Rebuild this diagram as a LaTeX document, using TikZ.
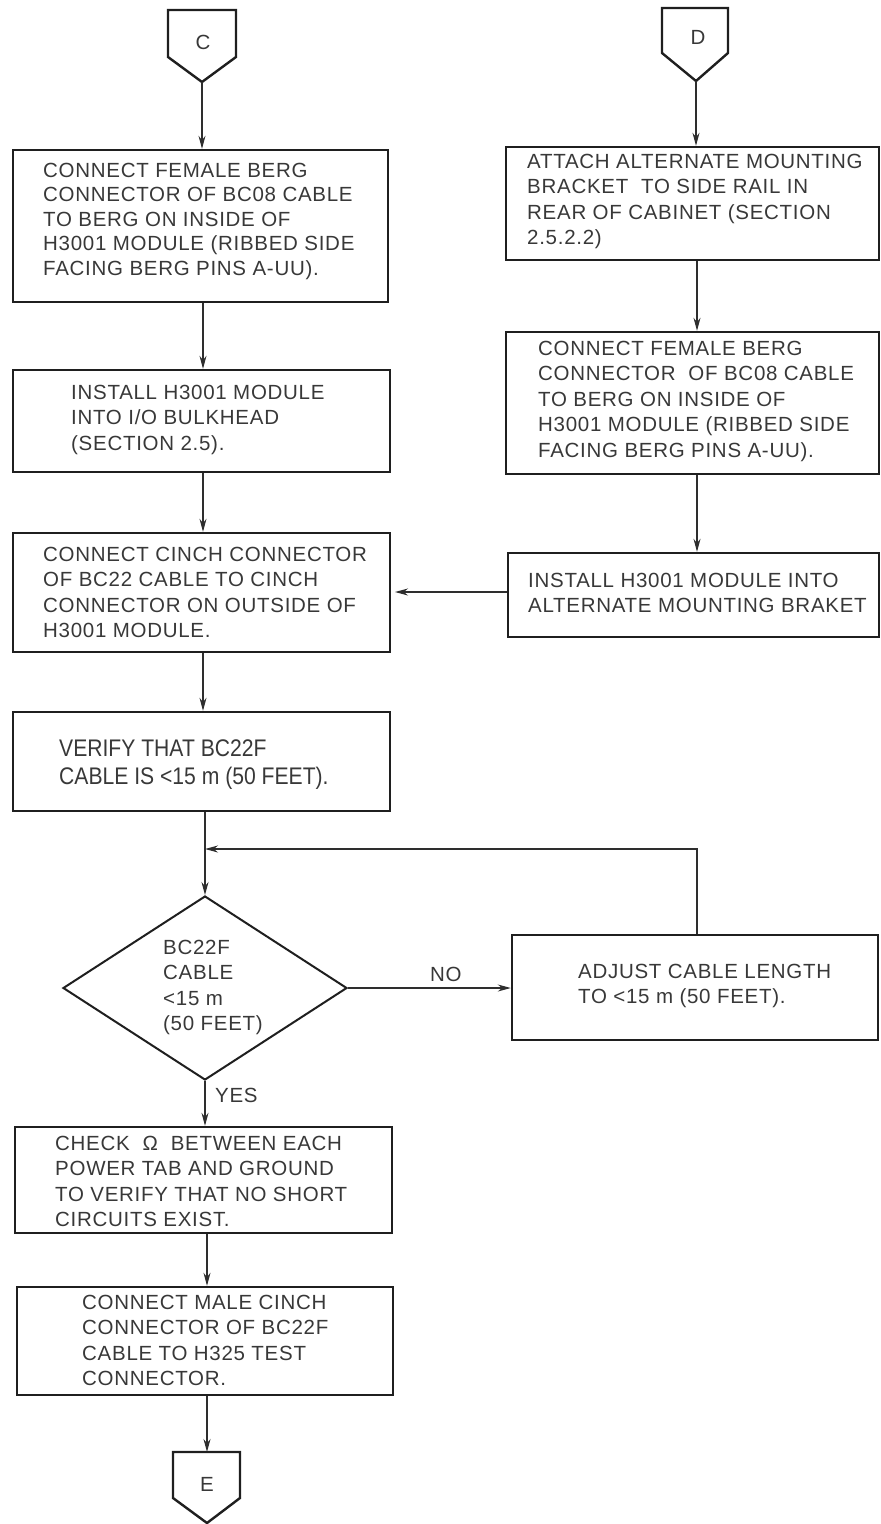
\documentclass[tikz,border=0pt]{standalone}
\usepackage{fontspec}
\setmainfont{Liberation Sans}[LetterSpace=3.5]
\newfontfamily\narrowfont{Liberation Sans}[FakeStretch=0.88]
\usetikzlibrary{arrows.meta,fit,shapes.geometric}
\newcommand{\flowfont}{\fontsize{20.5}{25.6}\selectfont}
\newcommand{\tightfont}{\fontsize{20.5}{24.5}\selectfont}
\newcommand{\verifyfont}{\narrowfont\fontsize{24}{28}\selectfont}

\begin{document}
\begin{tikzpicture}[x=1pt,y=-1pt,
  box/.style={draw=black!88, line width=2.4pt, rectangle, inner sep=0pt},
  steptext/.style={anchor=north west, inner sep=0pt, align=left, font=\flowfont, text=black!78},
  tag/.style={inner sep=0pt, font=\flowfont, text=black!78},
  flow/.style={draw=black!82, line width=1.2pt, -{Stealth[length=13pt,width=7pt]}},
  outline/.style={draw=black!88, line width=2.4pt, line join=miter},
  decision/.style={diamond, draw=black!88, line width=2pt, inner sep=0pt},
]
\useasboundingbox (0,0) rectangle (881,1524);

% ---------- off-page connectors ----------
\draw[outline] (168,10) -- (236,10) -- (236,57) -- (202,82) -- (168,57) -- cycle;
\node[tag] (C) at (203,42) {C};
\coordinate (Ctip) at (202,82);

\draw[outline] (662,8) -- (728,8) -- (728,53) -- (696,81) -- (662,53) -- cycle;
\node[tag] (D) at (698,37) {D};
\coordinate (Dtip) at (696,81);

\draw[outline] (173,1452) -- (240,1452) -- (240,1498) -- (207,1523) -- (173,1498) -- cycle;
\node[tag] (E) at (207,1484) {E};
\coordinate (Etop) at (207,1452);

% ---------- left column ----------
\path (13,150) coordinate (b1a) (388,302) coordinate (b1b);
\node[box, fit=(b1a)(b1b)] (b1) {};
\node[steptext, font=\tightfont] (t1) at (43,160) {\strut CONNECT FEMALE BERG\\CONNECTOR OF BC08 CABLE\\TO BERG ON INSIDE OF\\H3001 MODULE (RIBBED SIDE\\FACING BERG PINS A-UU).};

\path (13,370) coordinate (b2a) (390,472) coordinate (b2b);
\node[box, fit=(b2a)(b2b)] (b2) {};
\node[steptext] (t2) at (71,381) {\strut INSTALL H3001 MODULE\\INTO I/O BULKHEAD\\(SECTION 2.5).};

\path (13,533) coordinate (b3a) (390,652) coordinate (b3b);
\node[box, fit=(b3a)(b3b)] (b3) {};
\node[steptext] (t3) at (43,543) {\strut CONNECT CINCH CONNECTOR\\OF BC22 CABLE TO CINCH\\CONNECTOR ON OUTSIDE OF\\H3001 MODULE.};

\path (13,712) coordinate (b4a) (390,811) coordinate (b4b);
\node[box, fit=(b4a)(b4b)] (b4) {};
\node[steptext, font=\verifyfont] (t4) at (59,737) {\strut VERIFY THAT BC22F\\CABLE IS <15 m (50 FEET).};

\node[decision, minimum width=284pt, minimum height=184pt] (dec) at (205,988) {};
\node[steptext] (tdec) at (163,936) {\strut BC22F\\CABLE\\<15 m\\(50 FEET)};

\path (15,1127) coordinate (b5a) (392,1233) coordinate (b5b);
\node[box, fit=(b5a)(b5b)] (b5) {};
\node[steptext] (t5) at (55,1132) {\strut CHECK\ \ Ω\ \ BETWEEN EACH\\POWER TAB AND GROUND\\TO VERIFY THAT NO SHORT\\CIRCUITS EXIST.};

\path (17,1287) coordinate (b6a) (393,1395) coordinate (b6b);
\node[box, fit=(b6a)(b6b)] (b6) {};
\node[steptext] (t6) at (82,1291) {\strut CONNECT MALE CINCH\\CONNECTOR OF BC22F\\CABLE TO H325 TEST\\CONNECTOR.};

% ---------- right column ----------
\path (506,147) coordinate (r1a) (879,260) coordinate (r1b);
\node[box, fit=(r1a)(r1b)] (r1) {};
\node[steptext] (u1) at (527,150) {\strut ATTACH ALTERNATE MOUNTING\\BRACKET\ \ TO SIDE RAIL IN\\REAR OF CABINET (SECTION\\2.5.2.2)};

\path (506,332) coordinate (r2a) (879,474) coordinate (r2b);
\node[box, fit=(r2a)(r2b)] (r2) {};
\node[steptext] (u2) at (538,337) {\strut CONNECT FEMALE BERG\\CONNECTOR\ \ OF BC08 CABLE\\TO BERG ON INSIDE OF\\H3001 MODULE (RIBBED SIDE\\FACING BERG PINS A-UU).};

\path (508,553) coordinate (r3a) (879,637) coordinate (r3b);
\node[box, fit=(r3a)(r3b)] (r3) {};
\node[steptext] (u3) at (528,569) {\strut INSTALL H3001 MODULE INTO\\ALTERNATE MOUNTING BRAKET};

\path (512,935) coordinate (ra) (878,1040) coordinate (rb);
\node[box, fit=(ra)(rb)] (adj) {};
\node[steptext] (uadj) at (578,960) {\strut ADJUST CABLE LENGTH\\TO <15 m (50 FEET).};

% ---------- connectors ----------
\coordinate (colL) at (203,0);
\coordinate (colB) at (207,0);
\coordinate (colR) at (697,0);
\coordinate (loopin) at (205,849);

\draw[flow] (Ctip) -- (Ctip |- b1.north);
\draw[flow] (b1.south -| colL) -- (b2.north -| colL);
\draw[flow] (b2.south -| colL) -- (b3.north -| colL);
\draw[flow] (b3.south -| colL) -- (b4.north -| colL);
\draw[flow] (b4.south -| dec.north) -- (dec.north);
\draw[flow] (dec.south) -- (dec.south |- b5.north);
\draw[flow] (b5.south -| colB) -- (b6.north -| colB);
\draw[flow] (b6.south -| Etop) -- (Etop);

\draw[flow] (Dtip) -- (Dtip |- r1.north);
\draw[flow] (r1.south -| colR) -- (r2.north -| colR);
\draw[flow] (r2.south -| colR) -- (r3.north -| colR);
\draw[flow] (r3.west |- 0,592) -- (395,592);

\draw[flow] (dec.east) -- (dec.east -| adj.west);
\draw[flow] (adj.north -| colR) |- (loopin);

\node[tag, anchor=base west] (no) at (430,981) {NO};
\node[tag, anchor=base west] (yes) at (215,1102) {YES};
\end{tikzpicture}
\end{document}
